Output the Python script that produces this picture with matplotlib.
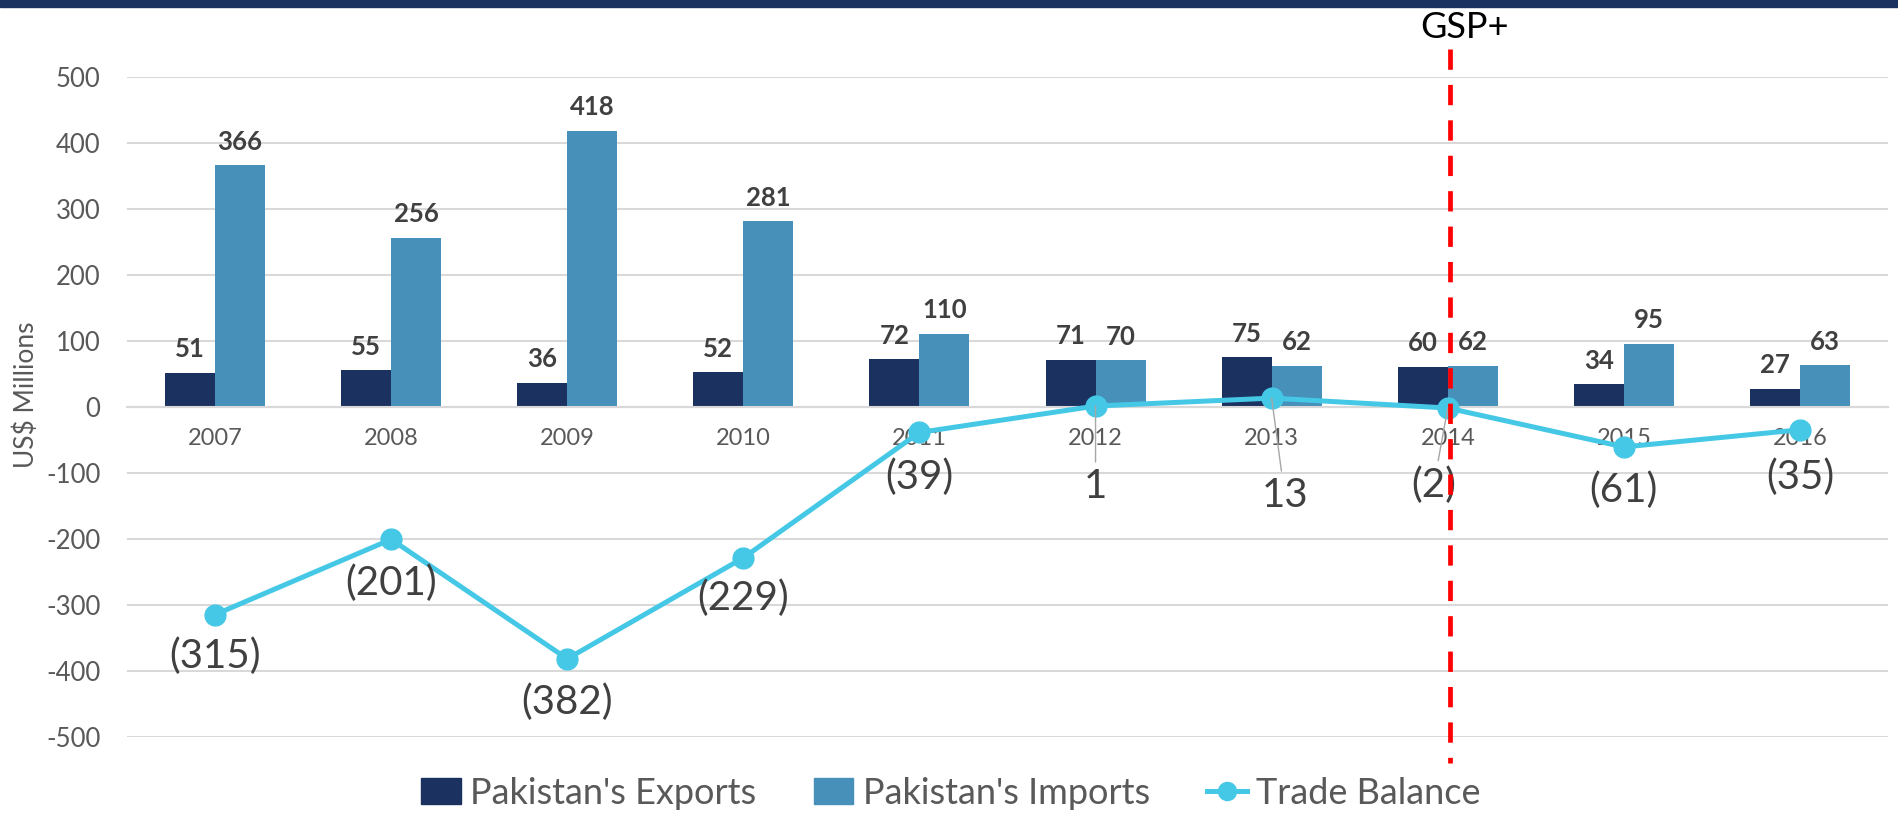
import matplotlib
matplotlib.use('Agg')
import matplotlib.pyplot as plt
import matplotlib.transforms as mtransforms
from matplotlib.lines import Line2D
from matplotlib.patches import Patch, Rectangle
import numpy as np

# ---------------- data ----------------
years = ['2007', '2008', '2009', '2010', '2011', '2012', '2013', '2014', '2015', '2016']
exports = [51, 55, 36, 52, 72, 71, 75, 60, 34, 27]
imports = [366, 256, 418, 281, 110, 70, 62, 62, 95, 63]
trade_balance = [-315, -201, -382, -229, -39, 1, 13, -2, -61, -35]
y_ticks = [-500, -400, -300, -200, -100, 0, 100, 200, 300, 400, 500]
gsp_year = '2014'
series_names = ["Pakistan's Exports", "Pakistan's Imports", "Trade Balance"]

# ---------------- style ----------------
NAVY = '#1B3160'
BLUE = '#4690BA'
CYAN = '#45C8E6'
GRID = '#D9D9D9'
TXT = '#595959'
LBL = '#404040'

plt.rcParams['font.family'] = ['Lato', 'DejaVu Sans']

W, H = 1898, 814
fig = plt.figure(figsize=(W / 100, H / 100), dpi=100)
ax = fig.add_axes([127 / W, 1 - 736.7 / H, 1761 / W, 660 / H])

x = np.arange(len(years))
bw = 50 / 176
ax.bar(x - bw / 2, exports, bw, color=NAVY, zorder=2)
ax.bar(x + bw / 2, imports, bw, color=BLUE, zorder=2)
ax.plot(x, trade_balance, color=CYAN, lw=3.6, marker='o', ms=15, zorder=4)

ax.set_xlim(-0.5, len(years) - 0.5)
ax.set_ylim(min(y_ticks), max(y_ticks))
ax.set_axisbelow(True)
ax.set_yticks(y_ticks)
ax.set_yticklabels([str(v) for v in y_ticks])
ax.set_xticks(x)
ax.set_xticklabels(years)
ax.yaxis.grid(True, color=GRID, lw=1.5)
for s in ['top', 'right', 'left']:
    ax.spines[s].set_visible(False)
ax.spines['bottom'].set_position(('data', 0))
ax.spines['bottom'].set_color(GRID)
ax.spines['bottom'].set_linewidth(1.5)
ax.tick_params(axis='x', length=0, pad=15, labelsize=17, labelcolor=TXT)
ax.tick_params(axis='y', length=0, pad=19, labelsize=18.5, labelcolor=TXT)

# bar value labels
for xi, v in zip(x, exports):
    ax.annotate(str(v), (xi - bw / 2, v), xytext=(0, 17), textcoords='offset points',
                ha='center', va='center', fontsize=18.5, fontweight='bold', color=LBL, zorder=5)
for xi, v in zip(x, imports):
    ax.annotate(str(v), (xi + bw / 2, v), xytext=(0, 17), textcoords='offset points',
                ha='center', va='center', fontsize=18.5, fontweight='bold', color=LBL, zorder=5)

# trade balance labels (offsets in px)
tb_offsets = [(0, -42), (0, -44), (0, -43), (0, -40), (0, -45),
              (0, -80), (13, -97), (-14, -77), (0, -43), (0, -47)]
leader = [False, False, False, False, False, True, True, True, False, False]
for xi, v, (dx, dy), ld in zip(x, trade_balance, tb_offsets, leader):
    txt = f'({abs(v)})' if v < 0 else str(v)
    kw = {}
    if ld:
        kw['arrowprops'] = dict(arrowstyle='-', color='#A6A6A6', lw=1.0, shrinkA=2, shrinkB=0)
    ax.annotate(txt, (xi, v), xytext=(dx * 0.72, dy * 0.72), textcoords='offset points',
                ha='center', va='center', fontsize=29, color=LBL, zorder=6, **kw)

# GSP+ marker line
gx = years.index(gsp_year) + 0.015
trans = mtransforms.blended_transform_factory(ax.transData, ax.transAxes)
ax.plot([gx, gx], [1.042, -0.04], transform=trans, color='#FF0000', lw=3.4,
        ls=(0, (4.3, 3.2)), clip_on=False, zorder=7)
trans_f = mtransforms.blended_transform_factory(ax.transData, fig.transFigure)
ax.text(gx + 0.08, 1 - 28 / H, 'GSP+', transform=trans_f, ha='center', va='center',
        fontsize=26, color='black')

# y label
fig.text(26 / W, 1 - 395 / H, 'US$ Millions', rotation=90, ha='center', va='center',
         fontsize=19, color=TXT)

# top band
fig.patches.append(Rectangle((0, 1 - 6.5 / H), 1, 6.5 / H, transform=fig.transFigure,
                             color=NAVY, zorder=0))

# legend
handles = [Patch(color=NAVY), Patch(color=BLUE),
           Line2D([], [], color=CYAN, lw=3.6, marker='o', ms=13)]
fig.legend(handles, series_names, loc='center', bbox_to_anchor=(0.501, 1 - 793 / H), ncol=3,
           frameon=False, fontsize=26, handlelength=1.1, handleheight=0.7,
           handletextpad=0.25, columnspacing=1.6, labelcolor=TXT, borderpad=0)

fig.savefig('out.png', dpi=100)
